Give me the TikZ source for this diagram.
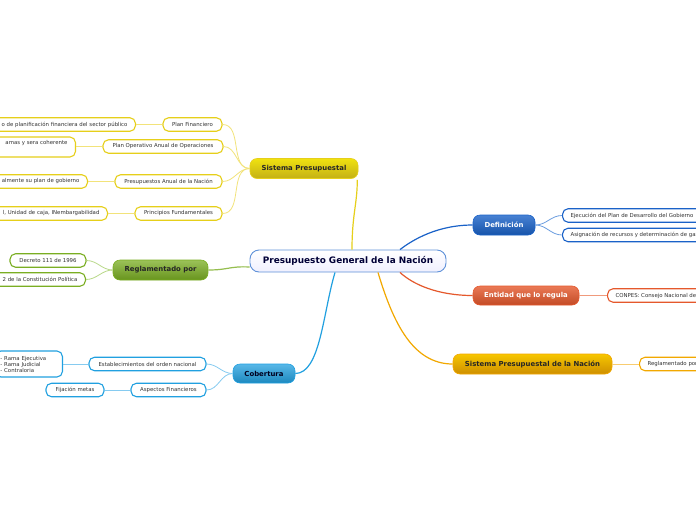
\documentclass[tikz,border=0pt]{standalone}
\usepackage{fontspec}
\setmainfont{DejaVu Sans}
\usetikzlibrary{calc}
\definecolor{yel}{HTML}{E6CF1A}
\definecolor{yelL}{HTML}{F2E37A}
\definecolor{grn}{HTML}{7AAE22}
\definecolor{grnL}{HTML}{B9D98A}
\definecolor{lbl}{HTML}{21A0E0}
\definecolor{lblL}{HTML}{86CBF0}
\definecolor{dbl}{HTML}{1A62C8}
\definecolor{dblL}{HTML}{6C9EE0}
\definecolor{org}{HTML}{E5582C}
\definecolor{orgL}{HTML}{F09A7C}
\definecolor{gld}{HTML}{F2A800}
\definecolor{gldL}{HTML}{F8CC70}
\definecolor{leaftext}{HTML}{333333}
\begin{document}
\begin{tikzpicture}[x=1pt,y=-1pt,
  central/.style={rounded corners=9pt, minimum width=196pt, minimum height=22pt, inner sep=0pt,
    top color=white, bottom color=black!4!blue!6!white, draw=dbl!70!white, line width=0.9pt,
    text=black!70!blue!70!black, font=\fontsize{8.9}{9}\selectfont\bfseries},
  topic/.style={rounded corners=7pt, minimum height=20pt, inner sep=0pt, line width=0.6pt,
    font=\fontsize{6.9}{7}\selectfont\bfseries},
  leaf/.style={rounded corners=5.5pt, fill=white, line width=1.1pt, minimum height=13.5pt, inner sep=0pt,
    inner xsep=8pt, text=leaftext, font=\fontsize{5.4}{6}\selectfont},
  main/.style={line width=1.2pt},
  sub/.style={line width=0.8pt}
]
\useasboundingbox (0,0) rectangle (696,520);
\fill[white] (0,0) rectangle (696,520);
\clip (0,0) rectangle (696,520);

% main topics
\node[central] (c) at (348,261) {Presupuesto General de la Nación};
\node[topic, minimum width=108pt, top color=yel!60!yellow, bottom color=yel!85!black, draw=yel, text=black!85] (sp) at (304,168.5) {Sistema Presupuestal};
\node[topic, minimum width=95pt, top color=grn!75!white, bottom color=grn!85!black, draw=grn, text=black!85] (rp) at (160.5,270) {Reglamentado por};
\node[topic, minimum width=62pt, minimum height=19pt, top color=lbl!75!white, bottom color=lbl!85!black, draw=lbl, text=black!80!blue!60!black] (cob) at (264,373.5) {Cobertura};
\node[topic, minimum width=62pt, top color=dbl!80!white, bottom color=dbl!85!black, draw=dbl, text=white] (def) at (504,225) {Definición};
\node[topic, minimum width=106pt, minimum height=19pt, top color=org!80!white, bottom color=org!85!black, draw=org, text=white] (ent) at (526,295.5) {Entidad que lo regula};
\node[topic, minimum width=159pt, top color=gld!65!yellow, bottom color=gld!85!black, draw=gld, text=black!85] (spn) at (532.5,364) {Sistema Presupuestal de la Nación};

% Sistema Presupuestal children
\node[leaf, draw=yel, minimum width=59pt] (pf) at (192.5,124.5) {Plan Financiero};
\node[leaf, draw=yel, minimum width=120pt] (po) at (163,146.5) {Plan Operativo Anual de Operaciones};
\node[leaf, draw=yel, minimum width=107pt] (pa) at (168.5,181.5) {Presupuestos Anual de la Nación};
\node[leaf, draw=yel, minimum width=87pt] (pfu) at (178.5,213.5) {Principios Fundamentales};
\node[leaf, draw=yel, anchor=east] (g1) at (136,124.5) {\hspace*{40pt}o de planificación financiera del sector público};
\node[leaf, draw=yel, anchor=east, minimum height=20pt, align=left] (g2) at (76,147) {\hspace*{40pt}amas y sera coherente\\[1pt]\strut};
\node[leaf, draw=yel, anchor=east] (g3) at (88,181.5) {\hspace*{40pt}almente su plan de gobierno};
\node[leaf, draw=yel, anchor=east] (g4) at (108,213.5) {\hspace*{40pt}l, Unidad de caja, INembargabilidad};

% Reglamentado por children
\node[leaf, draw=grn, minimum width=76pt] (dec) at (48,260.5) {Decreto 111 de 1996};
\node[leaf, draw=grn, anchor=east] (con) at (86,279.5) {\hspace*{40pt}2 de la Constitución Política};

% Cobertura children
\node[leaf, draw=lbl, minimum width=117pt] (est) at (147.5,364) {Establecimientos del orden nacional};
\node[leaf, draw=lbl, minimum width=75pt] (asp) at (168.5,390) {Aspectos Financieros};
\node[leaf, draw=lbl, anchor=east, inner xsep=5pt, text width=57pt, align=left, minimum height=26pt, font=\fontsize{5.4}{6}\selectfont] (ram) at (63,364) {- Rama Ejecutiva\\- Rama Judicial\\- Contraloria};
\node[leaf, draw=lbl, minimum width=58pt] (fij) at (75,390) {Fijación metas};

% right side children
\node[leaf, draw=dbl, anchor=west] (d1) at (562,215.5) {Ejecución del Plan de Desarrollo del Gobierno\hspace*{40pt}};
\node[leaf, draw=dbl, anchor=west] (d2) at (562,235) {Asignación de recursos y determinación de gastos\hspace*{40pt}};
\node[leaf, draw=org, anchor=west] (e1) at (607,295.5) {CONPES: Consejo Nacional de Política Económica\hspace*{40pt}};
\node[leaf, draw=gld, anchor=west] (s1) at (639,364) {Reglamentado por\hspace*{40pt}};

% main connectors
\draw[main, yel] ([xshift=4pt]c.north) .. controls ([xshift=4pt,yshift=35pt]c.north) and ([xshift=-1pt,yshift=-25pt]sp.south east) .. ([xshift=-1pt,yshift=-1pt]sp.south east);
\draw[main, grn!80!white] ([yshift=-6pt]c.west) .. controls ([xshift=-20pt,yshift=-5pt]c.west) and ([xshift=20pt]rp.east) .. (rp.east);
\draw[main, lbl] ([xshift=-13pt]c.south) .. controls ([xshift=-25pt,yshift=-40pt]c.south) and ([xshift=25pt]cob.east) .. (cob.east);
\draw[main, dbl] ([xshift=52pt]c.north) .. controls ([xshift=65pt,yshift=10pt]c.north) and ([xshift=-35pt]def.west) .. (def.west);
\draw[main, org] ([xshift=52pt]c.south) .. controls ([xshift=65pt,yshift=-12pt]c.south) and ([xshift=-35pt]ent.west) .. (ent.west);
\draw[main, gld] ([xshift=30pt]c.south) .. controls ([xshift=45pt,yshift=-50pt]c.south) and ([xshift=-40pt]spn.west) .. (spn.west);

% sub connectors
\foreach \n in {pf,po,pa,pfu} \draw[sub, yelL] (sp.west) to[out=180,in=0] (\n.east);
\draw[sub, yelL] (pf.west) -- (g1.east);
\draw[sub, yelL] (po.west) -- (g2.east |- po.west);
\draw[sub, yelL] (pa.west) -- (g3.east);
\draw[sub, yelL] (pfu.west) -- (g4.east);
\foreach \n in {dec,con} \draw[sub, grnL] (rp.west) to[out=180,in=0] (\n.east);
\foreach \n in {est,asp} \draw[sub, lblL] (cob.west) to[out=180,in=0] (\n.east);
\draw[sub, lblL] (est.west) -- (ram.east |- est.west);
\draw[sub, lblL] (asp.west) -- (fij.east);
\foreach \n in {d1,d2} \draw[sub, dblL] (def.east) to[out=0,in=180] (\n.west);
\draw[sub, orgL] (ent.east) -- (e1.west);
\draw[sub, gldL] (spn.east) -- (s1.west);
\end{tikzpicture}
\end{document}
